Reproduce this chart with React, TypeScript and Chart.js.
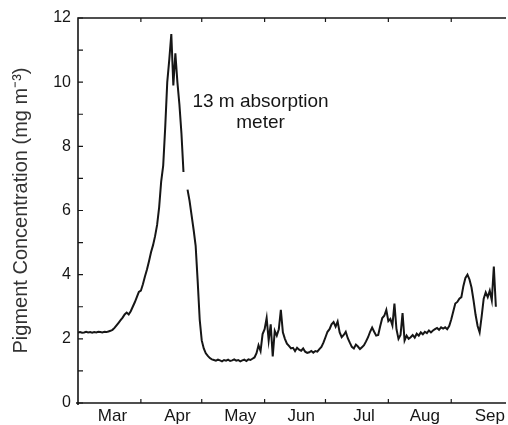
import React, { useEffect, useRef } from 'react';
import { Chart, registerables } from 'chart.js';

Chart.register(...registerables);

// Month labels (axis starts on 1 March, x = days since 1 March)
const monthNames = ['Mar', 'Apr', 'May', 'Jun', 'Jul', 'Aug', 'Sep'];
const monthStartDays = [0, 31, 61, 92, 122, 153, 184];
const monthLabelDays = [17, 49, 80, 110, 141, 171, 203];

const yTickValues = [0, 2, 4, 6, 8, 10, 12];
const yMinorTickValues = [1, 3, 5, 7, 9, 11];

// Daily pigment concentration (mg m-3), day 0 = 1 March
const pigment: (number | null)[] = [
  // Mar
  2.20, 2.21, 2.19, 2.20, 2.22, 2.20, 2.21, 2.19, 2.21, 2.20, 2.22, 2.21, 2.20, 2.22, 2.21, 2.23, 2.25, 2.28,
  2.34, 2.42, 2.50, 2.58, 2.66, 2.76, 2.82, 2.76, 2.86, 3.00, 3.14, 3.30, 3.46, 3.50, 3.70, 3.94, 4.16, 4.42,
  4.70, 4.92, 5.20, 5.55,
  // bloom
  6.10, 6.90, 7.40, 8.60, 10.0, 10.7, 11.5, 9.9, 10.9, 10.0, 9.3, 8.4, 7.2,
  null,
  6.65, 6.3, 5.85, 5.4, 4.9, 3.8, 2.6, 1.95, 1.7, 1.55, 1.47, 1.4, 1.36,
  // May
  1.34, 1.32, 1.35, 1.33, 1.30, 1.34, 1.32, 1.35, 1.31, 1.33, 1.36, 1.32, 1.34, 1.30, 1.33, 1.35, 1.31, 1.36,
  1.34, 1.38,
  1.42, 1.55, 1.80, 1.62, 2.15, 2.30, 2.65, 1.95, 2.45, 1.45, 2.25, 2.10, 2.30, 2.90,
  // Jun
  2.20, 2.00, 1.85, 1.78, 1.70, 1.72, 1.62, 1.72, 1.66, 1.63, 1.70, 1.60, 1.56, 1.58, 1.62, 1.57, 1.62, 1.60,
  1.68, 1.75, 1.88,
  // Jul
  2.05, 2.22, 2.30, 2.45, 2.52, 2.38, 2.54, 2.20, 2.05, 2.12, 2.22, 2.02, 1.88, 1.75, 1.70, 1.82, 1.76, 1.68,
  1.74, 1.80, 1.92, 2.05, 2.22, 2.35, 2.22, 2.10, 2.12,
  2.40, 2.65, 2.72, 2.90, 2.55, 2.62, 2.42, 3.10, 2.30, 2.00, 2.12, 2.80, 1.95, 2.10, 2.00,
  // Aug
  2.05, 2.12, 2.04, 2.16, 2.10, 2.20, 2.14, 2.22, 2.18, 2.26, 2.20, 2.26, 2.30, 2.34, 2.28, 2.36, 2.32, 2.36,
  2.30, 2.40,
  // Sep
  2.60, 2.85, 3.10, 3.15, 3.25, 3.30, 3.65, 3.90, 4.00, 3.85, 3.60, 3.20, 2.75, 2.40, 2.20, 2.70, 3.25, 3.45,
  3.30, 3.50, 3.20, 4.25, 3.00,
];

const annotationLines = ['13 m absorption', 'meter'];
const annotationDay = 90;
const annotationValue = 9.4;

const FONT = '"Liberation Sans", Arial, Helvetica, sans-serif';
const INK = '#161616';

const framePlugin = {
  id: 'frame',
  afterDraw(chart: any) {
    const { ctx, chartArea: a, scales } = chart;
    const x = scales.x;
    const y = scales.y;
    ctx.save();
    ctx.strokeStyle = INK;
    ctx.lineWidth = 1.6;
    ctx.beginPath();
    ctx.moveTo(a.left, a.bottom + 2);
    ctx.lineTo(a.left, a.top);
    ctx.lineTo(a.right, a.top);
    ctx.moveTo(a.left - 2, a.bottom);
    ctx.lineTo(a.right, a.bottom);
    ctx.stroke();
    ctx.lineWidth = 1.2;
    ctx.beginPath();
    monthStartDays.slice(1).forEach((d) => {
      const px = x.getPixelForValue(d);
      ctx.moveTo(px, a.bottom);
      ctx.lineTo(px, a.bottom - 4);
      ctx.moveTo(px, a.top);
      ctx.lineTo(px, a.top + 4);
    });
    [...yTickValues, ...yMinorTickValues].forEach((v) => {
      const py = y.getPixelForValue(v);
      ctx.moveTo(a.left, py);
      ctx.lineTo(a.left + 5, py);
    });
    ctx.stroke();

    ctx.fillStyle = INK;
    ctx.font = `19px ${FONT}`;
    ctx.textAlign = 'center';
    ctx.textBaseline = 'middle';
    const ax = x.getPixelForValue(annotationDay);
    const ay = y.getPixelForValue(annotationValue);
    annotationLines.forEach((t, i) => ctx.fillText(t, ax, ay + i * 21));
    ctx.restore();
  },
};

export default function App() {
  const ref = useRef<HTMLCanvasElement | null>(null);

  useEffect(() => {
    document.body.style.margin = '0';
    const canvas = ref.current;
    if (!canvas) return;
    const chart = new Chart(canvas, {
      type: 'line',
      data: {
        datasets: [
          {
            label: 'Pigment',
            data: pigment.map((v, i) => ({ x: i, y: v })) as any,
            borderColor: INK,
            borderWidth: 2,
            pointRadius: 0,
            tension: 0,
            spanGaps: false,
            fill: false,
          },
        ],
      },
      options: {
        animation: false,
        responsive: false,
        layout: { padding: { top: 18, right: 2, left: 0, bottom: 0 } },
        plugins: { legend: { display: false }, tooltip: { enabled: false } },
        scales: {
          x: {
            type: 'linear',
            min: 0,
            max: 211,
            afterFit: (s: any) => {
              s.height = 22;
            },
            afterBuildTicks: (s: any) => {
              s.ticks = monthLabelDays.map((v) => ({ value: v }));
            },
            grid: { display: false, drawTicks: false },
            border: { display: false },
            ticks: {
              autoSkip: false,
              maxRotation: 0,
              padding: 3,
              color: INK,
              font: { family: FONT, size: 17 },
              callback: (_v: any, i: number) => monthNames[i],
            },
          },
          y: {
            min: 0,
            max: 12,
            afterFit: (s: any) => {
              s.width = 78;
            },
            afterBuildTicks: (s: any) => {
              s.ticks = yTickValues.map((v) => ({ value: v }));
            },
            grid: { display: false, drawTicks: false },
            border: { display: false },
            ticks: {
              padding: 7,
              color: INK,
              font: { family: FONT, size: 16 },
            },
            title: {
              display: true,
              text: 'Pigment Concentration (mg m⁻³)',
              color: '#333',
              font: { family: FONT, size: 20 },
              padding: { top: 9, bottom: 0 },
            },
          },
        },
      },
      plugins: [framePlugin],
    });
    return () => chart.destroy();
  }, []);

  return (
    <div style={{ width: 508, height: 425, background: '#fff' }}>
      <canvas ref={ref} width={508} height={425} />
    </div>
  );
}
